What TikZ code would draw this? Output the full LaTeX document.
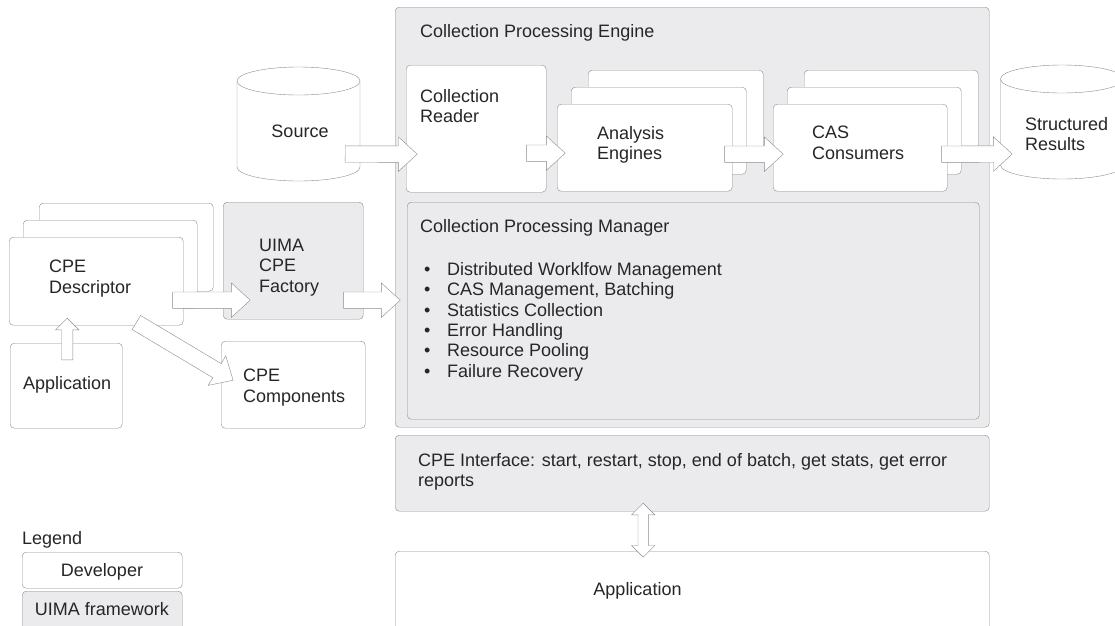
\documentclass[tikz,border=0pt]{standalone}
\usepackage{fontspec}
\setmainfont{Liberation Sans}
\usetikzlibrary{calc,positioning,shapes.arrows}
\definecolor{edge}{HTML}{8C8C8C}
\definecolor{uima}{HTML}{EBEBED}
\definecolor{ink}{HTML}{262626}
\tikzset{
  box/.style={draw=edge, rounded corners=4pt, inner sep=0pt, anchor=north west},
  devbox/.style={box, fill=white},
  uimabox/.style={box, fill=uima},
  stackbox/.style={devbox, minimum width=175, minimum height=87},
  lbl/.style={text=ink, font=\fontsize{18}{20.4}\selectfont, inner sep=0pt, align=left, anchor=north west},
  store/.style={draw=edge, fill=white},
  fat/.style={single arrow, draw=edge, fill=white, inner xsep=0pt, inner ysep=8pt,
    single arrow head extend=9pt, single arrow tip angle=85, minimum width=0pt, anchor=tail},
  smallfat/.style={fat, inner ysep=5.5pt, single arrow head extend=6pt, single arrow tip angle=90},
  twofat/.style={double arrow, draw=edge, fill=white, inner xsep=0pt, inner ysep=5pt,
    double arrow head extend=6.5pt, double arrow tip angle=90, minimum width=0pt}
}
% block arrow from #2 to #3
\newcommand\barrow[3][fat]{%
  \path let \p1=(#2), \p2=(#3), \n1={atan2(\y2-\y1,\x2-\x1)},
    \n2={veclen(\x2-\x1,\y2-\y1)} in
    node[#1, rotate=\n1, minimum height=\n2] at (\p1) {};}
% drum round a centre coordinate
\newcommand\drum[1]{%
  \draw[store] ($(#1)+(-61.5,43)$) -- ($(#1)+(-61.5,-43)$)
    arc[start angle=180, end angle=360, x radius=61.5, y radius=14] -- ($(#1)+(61.5,43)$);
  \draw[store] ($(#1)+(0,43)$) ellipse[x radius=61.5, y radius=14];}
\newcommand\bul{\makebox[23pt][l]{•}}

\begin{document}
\begin{tikzpicture}[x=1pt,y=1pt]
  \useasboundingbox (0,0) rectangle (1115,-625);

  % engine
  \node[uimabox, minimum width=594, minimum height=420] (cpe) at (395,-7) {};
  \node[lbl] (cpet) at (420,-24) {Collection Processing Engine};
  \node[devbox, minimum width=140, minimum height=127] (rdr) at (406,-65) {};
  \node[lbl] (rdrt) at (420,-89) {Collection\\Reader};
  \node[stackbox] (ae3) at (588,-70) {};
  \node[stackbox] (ae2) at (571,-87) {};
  \node[stackbox] (ae1) at (557,-104) {};
  \node[lbl] (aet) at (597,-126) {Analysis\\Engines};
  \node[stackbox, minimum width=174] (cc3) at (804,-70) {};
  \node[stackbox, minimum width=174] (cc2) at (787,-87) {};
  \node[stackbox, minimum width=174] (cc1) at (773,-104) {};
  \node[lbl] (cct) at (812,-126) {CAS\\Consumers};
  \node[uimabox, minimum width=572, minimum height=217] (cpm) at (407,-202) {};
  \node[lbl] (cpmt) at (420,-219) {Collection Processing Manager};
  \node[lbl] (cpml) at (424,-262) {\bul Distributed Worklfow Management\\
    \bul CAS Management, Batching\\ \bul Statistics Collection\\
    \bul Error Handling\\ \bul Resource Pooling\\ \bul Failure Recovery};

  % interface and application
  \node[uimabox, minimum width=594, minimum height=76] (itf) at (395,-435) {};
  \node[lbl] (itft) at (418,-453) {CPE Interface: start, restart, stop, end of batch, get stats, get error\\reports};
  \node[devbox, minimum width=594, minimum height=90] (app) at (395,-551) {};
  \node[lbl, anchor=base] (appt) at (637.5,-595) {Application};

  % stores
  \coordinate (srcc) at (298.5,-124);
  \drum{srcc}
  \node[lbl, anchor=base] (srct) at (300,-137) {Source};
  \coordinate (resc) at (1062,-122);
  \drum{resc}
  \node[lbl] (rest) at (1025,-117) {Structured\\Results};

  % left side
  \node[devbox, minimum width=174, minimum height=88] (dsc3) at (39,-203) {};
  \node[devbox, minimum width=174, minimum height=88] (dsc2) at (23,-220) {};
  \node[devbox, minimum width=174, minimum height=88] (dsc) at (9,-237) {};
  \node[lbl] (dsct) at (49,-260) {CPE\\Descriptor};
  \node[uimabox, minimum width=140, minimum height=117] (fac) at (223,-202) {};
  \node[lbl] (fact) at (259,-239) {UIMA\\CPE\\Factory};
  \node[devbox, minimum width=144, minimum height=87] (cmp) at (221,-341) {};
  \node[lbl] (cmpt) at (243,-369) {CPE\\Components};
  \node[devbox, minimum width=112, minimum height=85] (usr) at (10,-343) {};
  \node[lbl] (usrt) at (23,-376) {Application};

  % legend
  \node[lbl] (legt) at (22,-531) {Legend};
  \node[devbox, minimum width=160, minimum height=36] (legd) at (22,-552) {};
  \node[lbl, anchor=base] (legdt) at (102,-576) {Developer};
  \node[uimabox, minimum width=160, minimum height=50] (legu) at (22,-591) {};
  \node[lbl, anchor=base] (legut) at (102,-615) {UIMA framework};

  % block arrows
  \barrow{$(srcc)+(46.5,-30)$}{$(rdr.west)+(11,-25.5)$}
  \barrow{$(rdr.east)+(-20,-24.5)$}{$(ae1.west)+(8,-5.5)$}
  \barrow{$(ae1.east)+(-8,-6.5)$}{$(cc1.west)+(10,-6.5)$}
  \barrow{$(cc1.east)+(-6,-6.5)$}{$(resc)+(-50,-32)$}
  \barrow{$(dsc.east)+(-11,-19)$}{$(fac.west)+(27,-39.5)$}
  \barrow{$(fac.east)+(-20,-39.5)$}{$(cpm.west)+(-7,10.5)$}
  \barrow{$(dsc.south)+(40,3)$}{$(cmp.west)+(12,4.5)$}
  \barrow[smallfat]{$(usr.north)+(1,-17)$}{$(dsc.south)+(-29,7)$}
  \node[twofat, rotate=90, minimum height=54] (duplex) at ($(itf.south)!.5!(app.north)+(-49,1)$) {};
\end{tikzpicture}
\end{document}
